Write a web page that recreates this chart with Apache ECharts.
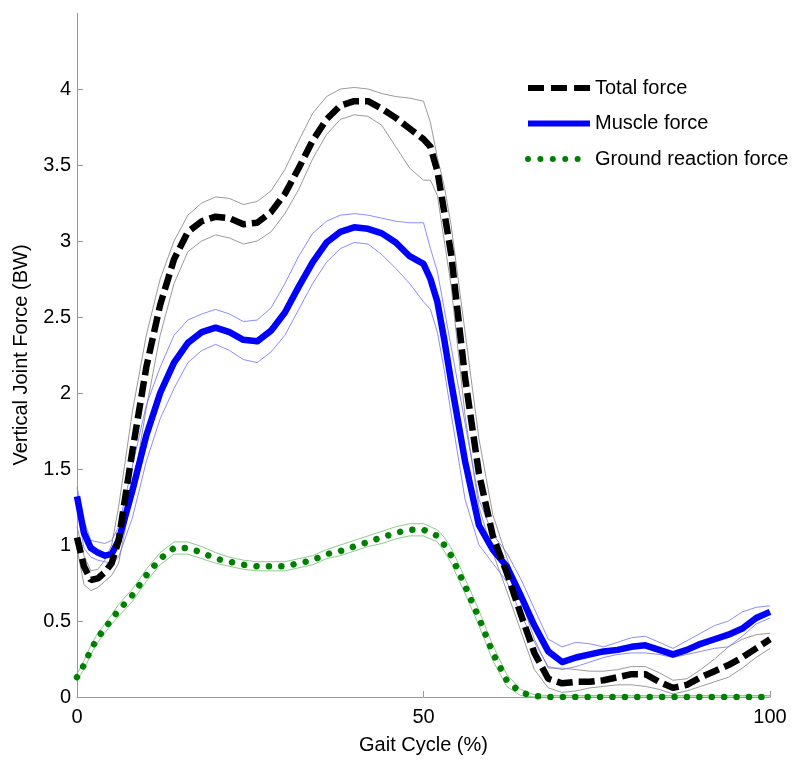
<!DOCTYPE html>
<html>
<head>
<meta charset="utf-8">
<script src="https://cdn.jsdelivr.net/npm/echarts@6/dist/echarts.min.js"></script>
<style>
html,body{margin:0;padding:0;background:#fff;}
#chart{width:800px;height:762px;}
</style>
</head>
<body>
<div id="chart"></div>
<script>
// Gait cycle (%) sample positions
var gaitX = [0,1,2,3,4,5,6,8,10,12,14,16,18,20,22,24,26,28,30,32,34,36,38,40,42,44,46,48,50,51,52,53,54,56,58,60,62,64,66,68,70,72,74,76,78,80,82,84,86,88,90,92,94,96,98,100];

// Total force (BW): mean, upper and lower band
var totalMean  = [1.05,0.86,0.77,0.78,0.82,0.88,1.03,1.62,2.17,2.58,2.88,3.06,3.13,3.16,3.15,3.11,3.12,3.19,3.31,3.48,3.66,3.80,3.89,3.92,3.92,3.87,3.81,3.74,3.67,3.62,3.46,3.19,2.91,2.10,1.47,1.06,0.82,0.55,0.29,0.12,0.09,0.10,0.10,0.11,0.13,0.15,0.15,0.10,0.06,0.08,0.13,0.17,0.21,0.26,0.32,0.38];
var totalUpper = [1.12,0.93,0.83,0.84,0.90,1.00,1.25,1.88,2.38,2.75,3.00,3.17,3.25,3.29,3.28,3.24,3.26,3.33,3.47,3.66,3.84,3.95,4.00,4.01,4.00,3.97,3.95,3.94,3.92,3.78,3.55,3.36,3.10,2.40,1.70,1.20,0.92,0.65,0.38,0.19,0.19,0.18,0.17,0.17,0.18,0.20,0.20,0.16,0.11,0.12,0.18,0.25,0.33,0.38,0.41,0.42];
var totalLower = [0.98,0.74,0.70,0.72,0.76,0.80,0.88,1.35,1.90,2.38,2.72,2.93,3.00,3.04,3.02,2.98,3.00,3.06,3.18,3.34,3.54,3.70,3.80,3.83,3.82,3.76,3.62,3.48,3.40,3.40,3.30,3.00,2.70,1.85,1.25,0.95,0.70,0.44,0.18,0.06,0.03,0.04,0.06,0.07,0.08,0.08,0.07,0.05,0.02,0.04,0.07,0.10,0.13,0.19,0.26,0.32];

// Muscle force (BW)
var muscleMean  = [1.32,1.08,0.98,0.95,0.93,0.94,1.03,1.36,1.72,2.00,2.20,2.33,2.40,2.43,2.40,2.35,2.34,2.41,2.53,2.70,2.86,2.99,3.06,3.09,3.08,3.05,2.99,2.90,2.85,2.75,2.60,2.35,2.07,1.55,1.13,0.97,0.86,0.67,0.47,0.30,0.23,0.26,0.28,0.30,0.31,0.33,0.34,0.31,0.28,0.31,0.35,0.38,0.41,0.45,0.52,0.56];
var muscleUpper = [1.38,1.16,1.03,1.02,1.01,1.03,1.12,1.52,1.92,2.17,2.38,2.48,2.52,2.55,2.52,2.47,2.48,2.56,2.72,2.90,3.05,3.13,3.17,3.18,3.17,3.15,3.13,3.12,3.12,2.95,2.80,2.55,2.30,1.80,1.30,1.07,0.95,0.78,0.58,0.38,0.33,0.36,0.35,0.33,0.36,0.39,0.40,0.36,0.32,0.37,0.42,0.47,0.50,0.56,0.59,0.60];
var muscleLower = [1.25,0.98,0.92,0.90,0.89,0.88,0.92,1.18,1.55,1.83,2.03,2.20,2.28,2.32,2.28,2.22,2.20,2.27,2.38,2.55,2.72,2.86,2.95,2.99,2.98,2.91,2.82,2.72,2.60,2.55,2.40,2.15,1.86,1.30,1.00,0.88,0.76,0.55,0.36,0.20,0.18,0.20,0.23,0.26,0.28,0.29,0.29,0.28,0.26,0.28,0.30,0.32,0.33,0.40,0.48,0.52];

// Ground reaction force (BW)
var grfMean  = [0.13,0.21,0.31,0.39,0.45,0.51,0.57,0.67,0.80,0.91,0.98,0.98,0.95,0.91,0.89,0.87,0.86,0.86,0.86,0.88,0.90,0.94,0.96,0.99,1.02,1.05,1.08,1.10,1.10,1.08,1.06,1.00,0.93,0.73,0.52,0.29,0.11,0.03,0.006,0,0,0,0,0,0,0,0,0,0,0,0,0,0,0,0,0];
var grfUpper = [0.15,0.24,0.34,0.42,0.48,0.54,0.61,0.71,0.84,0.95,1.02,1.02,0.99,0.95,0.92,0.90,0.89,0.89,0.89,0.91,0.93,0.97,1.00,1.03,1.06,1.09,1.12,1.14,1.14,1.12,1.10,1.05,0.98,0.78,0.57,0.34,0.15,0.05,0.015,0.01,0.01,0.01,0.01,0.01,0.01,0.01,0.01,0.01,0.01,0.01,0.01,0.01,0.01,0.01,0.01,0.01];
var grfLower = [0.11,0.18,0.28,0.36,0.42,0.48,0.53,0.63,0.76,0.87,0.94,0.94,0.91,0.88,0.86,0.84,0.83,0.83,0.83,0.85,0.87,0.91,0.93,0.96,0.99,1.01,1.04,1.06,1.06,1.04,1.02,0.96,0.88,0.68,0.47,0.24,0.07,0.01,0,0,0,0,0,0,0,0,0,0,0,0,0,0,0,0,0,0];

var seriesNames = ['Total force','Muscle force','Ground reaction force'];
var xTicks = [0, 50, 100];

function pairs(ys){ return gaitX.map(function(x,i){ return [x, ys[i]]; }); }
function band(name, ys, color){
  return {name: name, type:'line', data: pairs(ys), showSymbol:false, symbol:'none', silent:true,
    lineStyle:{color:color, width:0.8}, z:1};
}

var hidden = {color:'rgba(0,0,0,0)', borderWidth:0, opacity:0};
var chart = echarts.init(document.getElementById('chart'), null, {renderer:'canvas'});
var font = '"Liberation Sans", Arial, sans-serif';
chart.setOption({
  animation:false,
  backgroundColor:'#fff',
  grid:{left:77, right:30, top:13, bottom:65},
  legend:{
    orient:'vertical', left:520, top:73, itemWidth:62, itemHeight:14, itemGap:15.5,
    textStyle:{fontFamily:font, fontSize:20, color:'#000'},
    data:[
      {name:seriesNames[0], itemStyle:hidden, lineStyle:{width:6, type:[16,7], color:'#000'}},
      {name:seriesNames[1], itemStyle:hidden, lineStyle:{width:6, type:'solid', color:'#0000ff'}},
      {name:seriesNames[2], itemStyle:hidden, lineStyle:{width:6, type:[0.01,12.4], cap:'round', color:'#008000'}}
    ]
  },
  xAxis:{
    type:'value', min:0, max:100, interval:50,
    name:'Gait Cycle (%)', nameLocation:'middle', nameGap:38,
    nameTextStyle:{fontFamily:font, fontSize:20, color:'#000'},
    axisLine:{show:true, lineStyle:{color:'#999', width:1}},
    axisTick:{show:true, inside:true, length:6, lineStyle:{color:'#999'}},
    axisLabel:{fontFamily:font, fontSize:20, color:'#000', margin:10},
    splitLine:{show:false}
  },
  yAxis:{
    type:'value', min:0, max:4.5, interval:0.5,
    name:'Vertical Joint Force (BW)', nameLocation:'middle', nameGap:46,
    nameTextStyle:{fontFamily:font, fontSize:20, color:'#000'},
    axisLine:{show:true, lineStyle:{color:'#999', width:1}},
    axisTick:{show:true, inside:true, length:6, lineStyle:{color:'#999'}},
    axisLabel:{fontFamily:font, fontSize:20, color:'#000', margin:6, showMaxLabel:false},
    splitLine:{show:false}
  },
  series:[
    band('tu', totalUpper, '#808080'),
    band('tl', totalLower, '#808080'),
    band('mu', muscleUpper, '#6f6fff'),
    band('ml', muscleLower, '#6f6fff'),
    band('gu', grfUpper, '#6fbf6f'),
    band('gl', grfLower, '#6fbf6f'),
    {name:seriesNames[1], type:'line', data:pairs(muscleMean), showSymbol:false, symbol:'none',
      itemStyle:{color:'#0000ff'},
      lineStyle:{color:'#0000ff', width:6.5, join:'round'}, z:3},
    {name:seriesNames[0], type:'line', data:pairs(totalMean), showSymbol:false, symbol:'none',
      itemStyle:{color:'#000'},
      lineStyle:{color:'#000', width:6.5, type:[16,6]}, z:4},
    {name:seriesNames[2], type:'line', data:pairs(grfMean), showSymbol:false, symbol:'none',
      itemStyle:{color:'#008000'},
      lineStyle:{color:'#008000', width:6.5, type:[0.01,12.4], cap:'round'}, z:5}
  ]
});
</script>
</body>
</html>
